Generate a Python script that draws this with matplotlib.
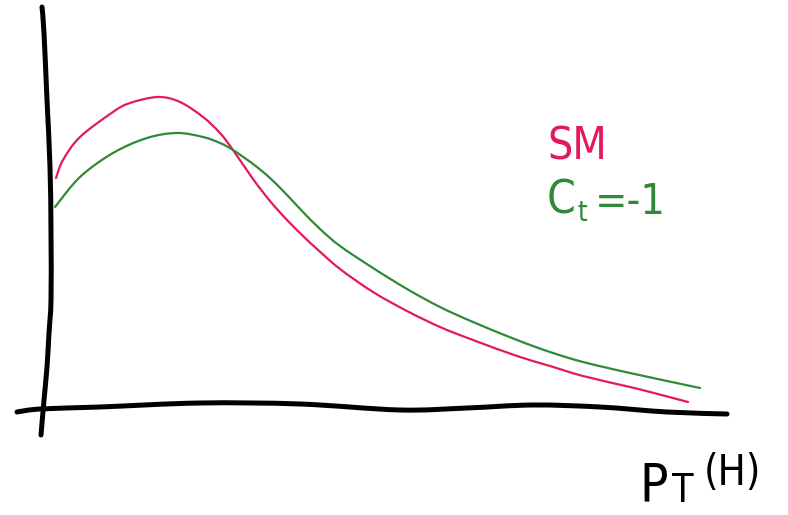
import matplotlib
matplotlib.use("Agg")
from matplotlib import pyplot as plt
from matplotlib.path import Path
from matplotlib.patches import PathPatch

# sketch units: origin at the crossing of the hand-drawn axes
sm_x = [14, 21, 38, 71, 88, 116, 138, 161, 178, 191, 211, 228, 245, 261,
        275, 298, 331, 365, 398, 431, 475, 508, 541, 588, 608, 646]
sm_y = [230, 248, 271, 296, 305, 311, 306, 291, 275, 258, 229, 207, 188, 172,
        159, 139, 116, 97, 81, 68, 52, 42, 32, 21, 16, 6]

ct_x = [13, 38, 71, 105, 135, 161, 178, 191, 211, 228, 245, 261, 278, 298,
        331, 365, 398, 431, 475, 508, 541, 588, 658]
ct_y = [201, 231, 255, 270, 275, 271, 265, 258, 244, 230, 213, 196, 179, 162,
        140, 119, 101, 86, 68, 56, 46, 35, 20]

# wobbly hand-drawn axis lines
yaxis_x = [0, 2, 5, 8, 9, 9, 7, 5, 2, -1]
yaxis_y = [401, 375, 308, 241, 175, 108, 75, 41, 8, -27]
xaxis_x = [-25, -2, 58, 158, 258, 358, 425, 491, 558, 625, 685]
xaxis_y = [-4, -1, 1, 5, 4, -2, 0, 3, 1, -4, -6]

RED = "#e3195b"
GREEN = "#2e8a36"


def smooth_path(xs, ys):
    # catmull-rom through the read points, drawn as cubic beziers
    pts = list(zip(xs, ys))
    verts = [pts[0]]
    codes = [Path.MOVETO]
    for i in range(len(pts) - 1):
        p0 = pts[i - 1] if i > 0 else pts[i]
        p1 = pts[i]
        p2 = pts[i + 1]
        p3 = pts[i + 2] if i + 2 < len(pts) else pts[i + 1]
        c1 = (p1[0] + (p2[0] - p0[0]) / 6, p1[1] + (p2[1] - p0[1]) / 6)
        c2 = (p2[0] - (p3[0] - p1[0]) / 6, p2[1] - (p3[1] - p1[1]) / 6)
        verts += [c1, c2, p2]
        codes += [Path.CURVE4] * 3
    return Path(verts, codes)


def draw(ax, xs, ys, color, lw):
    patch = PathPatch(smooth_path(xs, ys), facecolor="none", edgecolor=color,
                      lw=lw, capstyle="round", joinstyle="round")
    ax.add_patch(patch)


fig = plt.figure(figsize=(7.88, 5.15), dpi=100)
ax = fig.add_axes([0, 0, 1, 1])
ax.set_xlim(-42, 746)
ax.set_ylim(-107, 408)
ax.axis("off")

draw(ax, yaxis_x, yaxis_y, "black", 3.6)
draw(ax, xaxis_x, xaxis_y, "black", 3.6)
draw(ax, sm_x, sm_y, RED, 1.6)
draw(ax, ct_x, ct_y, GREEN, 1.6)

font = dict(family="DejaVu Sans", fontstretch="condensed", va="baseline")

# legend written next to the curves
ax.text(505, 249, "SM", color=RED, fontsize=32, **font)
ax.text(505, 194, "C", color=GREEN, fontsize=33, **font)
ax.text(535, 187, "t", color=GREEN, fontsize=20, **font)
ax.text(553, 194, "=-1", color=GREEN, fontsize=31, **font)

# x-axis title p_T^(H)
ax.text(597, -93, "P", color="black", fontsize=38, **font)
ax.text(630, -94, "T", color="black", fontsize=28, **font)
ax.text(662, -77, "(H)", color="black", fontsize=30, **font)

fig.savefig("out.png", dpi=100, facecolor="white")
